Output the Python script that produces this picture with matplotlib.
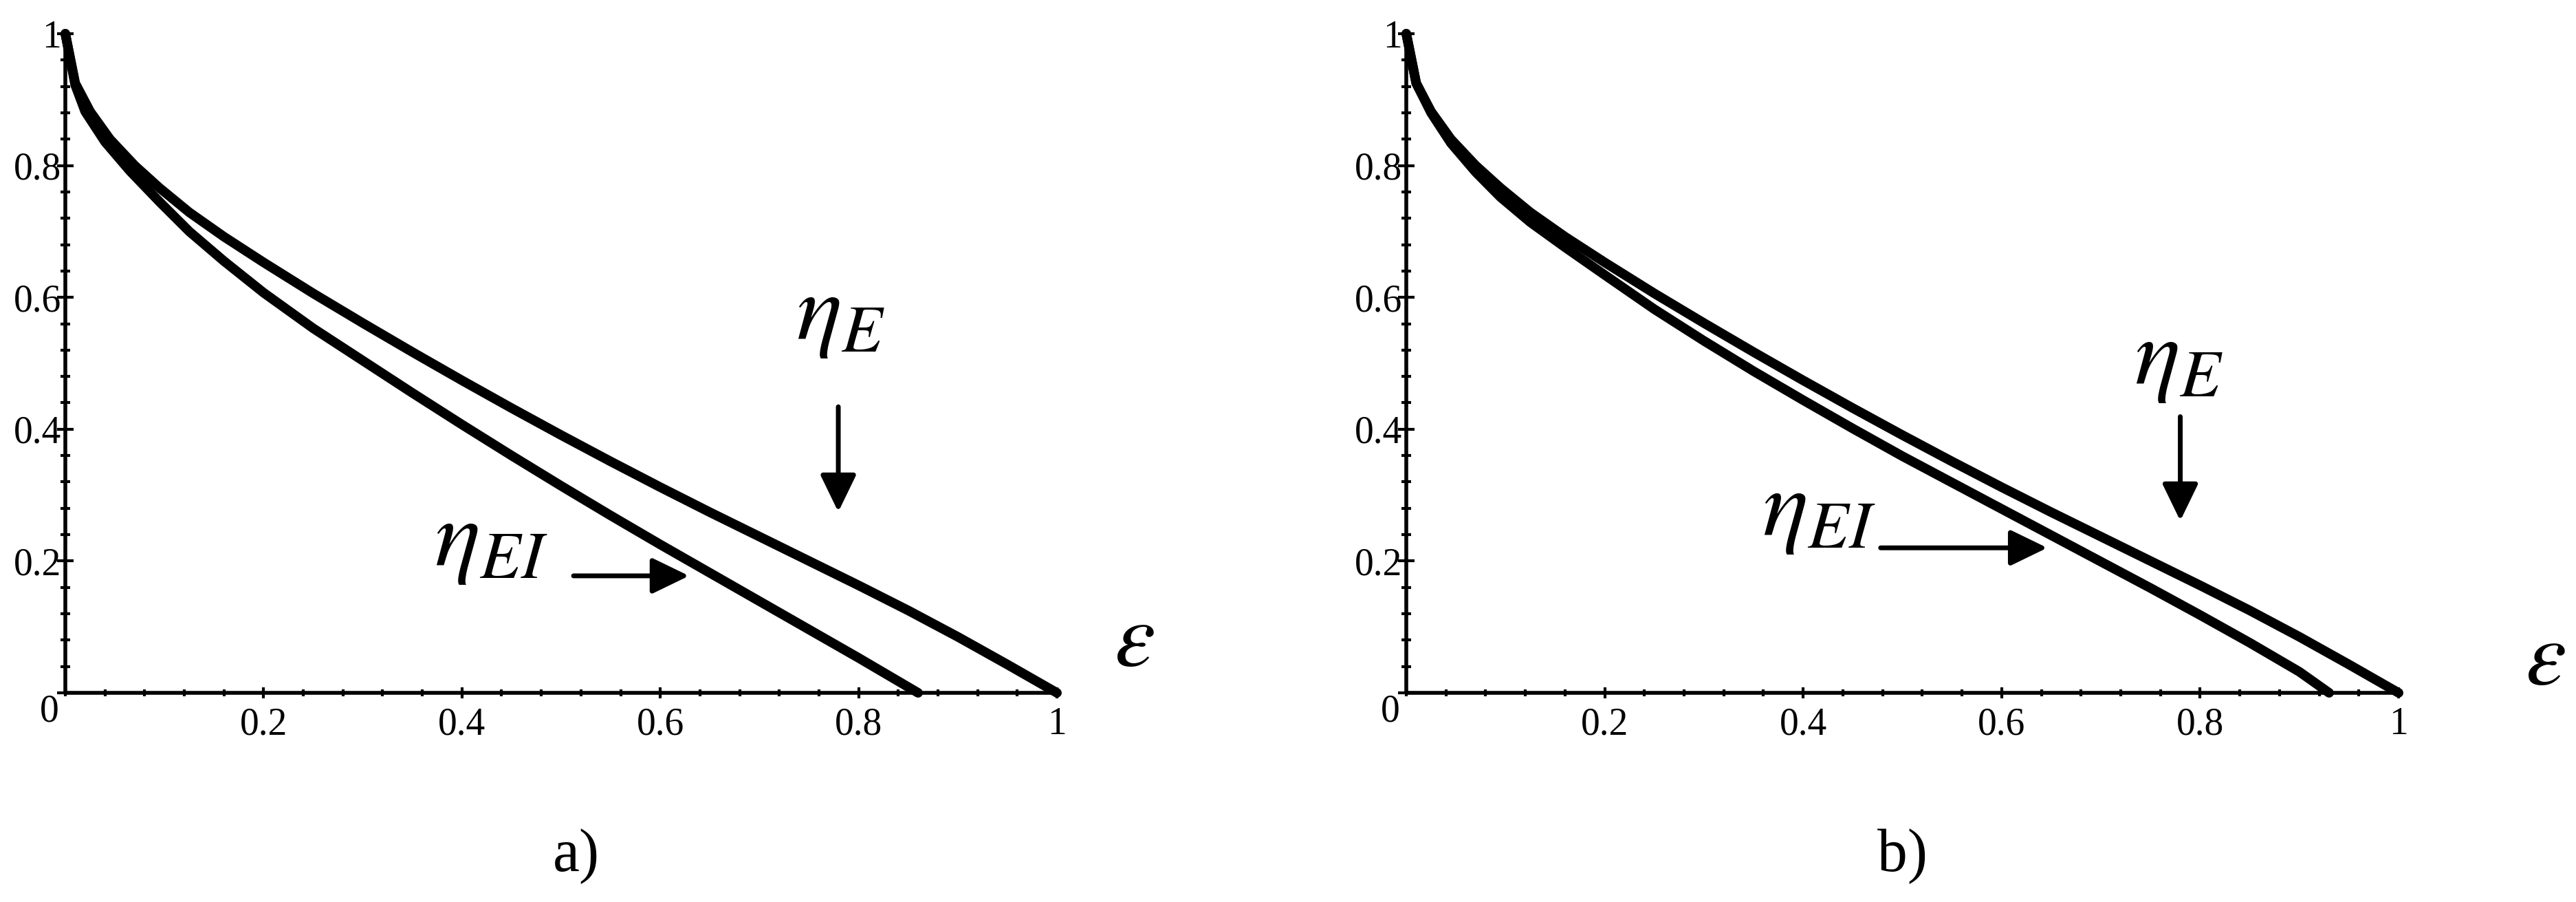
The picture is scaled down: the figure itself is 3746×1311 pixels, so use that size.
import matplotlib
matplotlib.use("Agg")
import matplotlib.pyplot as plt
from matplotlib.ticker import MultipleLocator, FixedLocator

plt.rcParams['mathtext.fontset'] = 'stix'
plt.rcParams['font.family'] = ['Liberation Serif', 'DejaVu Serif']

# ---------------- data ----------------
eps_E = [0.0, 0.01, 0.025, 0.045, 0.07, 0.095, 0.125, 0.16, 0.2, 0.25, 0.3, 0.35,
         0.4, 0.45, 0.5, 0.55, 0.6, 0.65, 0.7, 0.75, 0.8, 0.85, 0.9, 0.95, 1.0]
eta_E = [1.0, 0.925, 0.882, 0.840, 0.800, 0.766, 0.729, 0.692, 0.653, 0.606, 0.561, 0.517,
         0.474, 0.432, 0.391, 0.351, 0.312, 0.274, 0.237, 0.200, 0.163, 0.125, 0.085, 0.043, 0.0]

eps_EI_a = [0.0, 0.01, 0.02, 0.04, 0.065, 0.095, 0.125, 0.16, 0.2, 0.25, 0.3, 0.35,
            0.4, 0.45, 0.5, 0.55, 0.6, 0.65, 0.7, 0.75, 0.8, 0.86]
eta_EI_a = [1.0, 0.922, 0.882, 0.836, 0.792, 0.745, 0.700, 0.655, 0.607, 0.553, 0.504, 0.455,
            0.407, 0.360, 0.314, 0.269, 0.225, 0.182, 0.139, 0.096, 0.053, 0.0]

eps_EI_b = [0.0, 0.01, 0.025, 0.045, 0.07, 0.095, 0.125, 0.16, 0.2, 0.25, 0.3, 0.35,
            0.4, 0.45, 0.5, 0.55, 0.6, 0.65, 0.7, 0.75, 0.8, 0.85, 0.9, 0.93]
eta_EI_b = [1.0, 0.925, 0.880, 0.834, 0.790, 0.752, 0.714, 0.676, 0.634, 0.582, 0.534, 0.488,
            0.444, 0.401, 0.359, 0.319, 0.279, 0.239, 0.199, 0.159, 0.118, 0.076, 0.032, 0.0]

x_ticks = [0.2, 0.4, 0.6, 0.8, 1.0]
x_tick_labels = ["0.2", "0.4", "0.6", "0.8", "1"]
y_ticks = [0.0, 0.2, 0.4, 0.6, 0.8, 1.0]
y_tick_labels = ["", "0.2", "0.4", "0.6", "0.8", "1"]
panel_labels = ["a)", "b)"]
label_E = r"$\eta_E$"
label_EI = r"$\eta_{EI}$"
label_x = r"$\varepsilon$"

W, H = 3746, 1311
fig = plt.figure(figsize=(W / 100, H / 100), dpi=100)

panels = [
    dict(rect=[95 / W, (H - 1007) / H, 1442 / W, 958 / H],
         eps_EI=eps_EI_a, eta_EI=eta_EI_a,
         E_text=(0.737, 0.5365), E_arrow=((0.7795, 0.434), (0.7795, 0.2745)),
         EI_text=(0.3724, 0.193), EI_arrow=((0.5125, 0.1775), (0.629, 0.1775)),
         eps_pos=(1.078, 0.075), label=panel_labels[0], label_x=0.515),
    dict(rect=[2045 / W, (H - 1007) / H, 1443 / W, 958 / H],
         eps_EI=eps_EI_b, eta_EI=eta_EI_b,
         E_text=(0.734, 0.469), E_arrow=((0.780, 0.419), (0.780, 0.261)),
         EI_text=(0.359, 0.2387), EI_arrow=((0.478, 0.220), (0.646, 0.220)),
         eps_pos=(1.1476, 0.046), label=panel_labels[1], label_x=0.500),
]

for p in panels:
    ax = fig.add_axes(p["rect"])
    ax.set_xlim(0, 1)
    ax.set_ylim(0, 1)
    for s in ["top", "right"]:
        ax.spines[s].set_visible(False)
    for s in ["left", "bottom"]:
        ax.spines[s].set_linewidth(4.0)
        ax.spines[s].set_capstyle('butt')

    ax.plot(eps_E, eta_E, color="black", lw=10, solid_capstyle="round",
            solid_joinstyle="round", clip_on=False, zorder=3)
    ax.plot(p["eps_EI"], p["eta_EI"], color="black", lw=10, solid_capstyle="round",
            solid_joinstyle="round", clip_on=False, zorder=3)

    ax.xaxis.set_major_locator(FixedLocator(x_ticks))
    ax.set_xticklabels(x_tick_labels)
    ax.yaxis.set_major_locator(FixedLocator(y_ticks))
    ax.set_yticklabels(y_tick_labels)
    ax.xaxis.set_minor_locator(MultipleLocator(0.04))
    ax.yaxis.set_minor_locator(MultipleLocator(0.04))
    ax.tick_params(axis="x", which="major", direction="inout", length=12, width=3,
                   pad=8.4, labelsize=40)
    ax.tick_params(axis="x", which="minor", direction="inout", length=7, width=3)
    ax.tick_params(axis="y", which="major", direction="inout", length=17, width=3,
                   pad=-4.2, labelsize=40)
    ax.tick_params(axis="y", which="minor", direction="inout", length=10, width=3)

    ax.text(-0.0163, -0.029, "0", transform=ax.transAxes, ha="center", va="center",
            fontsize=40)

    ax.text(*p["E_text"], label_E, fontsize=100, ha="left", va="baseline")
    ax.text(*p["EI_text"], label_EI, fontsize=100, ha="left", va="baseline")
    ax.text(*p["eps_pos"], label_x, fontsize=96, ha="center", va="center")

    arrowprops = dict(arrowstyle="-|>,head_length=33,head_width=16", mutation_scale=1,
                      lw=5, color="black", shrinkA=0, shrinkB=0, capstyle="round")
    for start, tip in [p["E_arrow"], p["EI_arrow"]]:
        ax.annotate("", xy=tip, xytext=start, xycoords="data", textcoords="data",
                    arrowprops=arrowprops, annotation_clip=False)

    ax.text(p["label_x"], -0.248, p["label"], transform=ax.transAxes, ha="center",
            va="center", fontsize=63)

fig.savefig("out.png", dpi=100)
